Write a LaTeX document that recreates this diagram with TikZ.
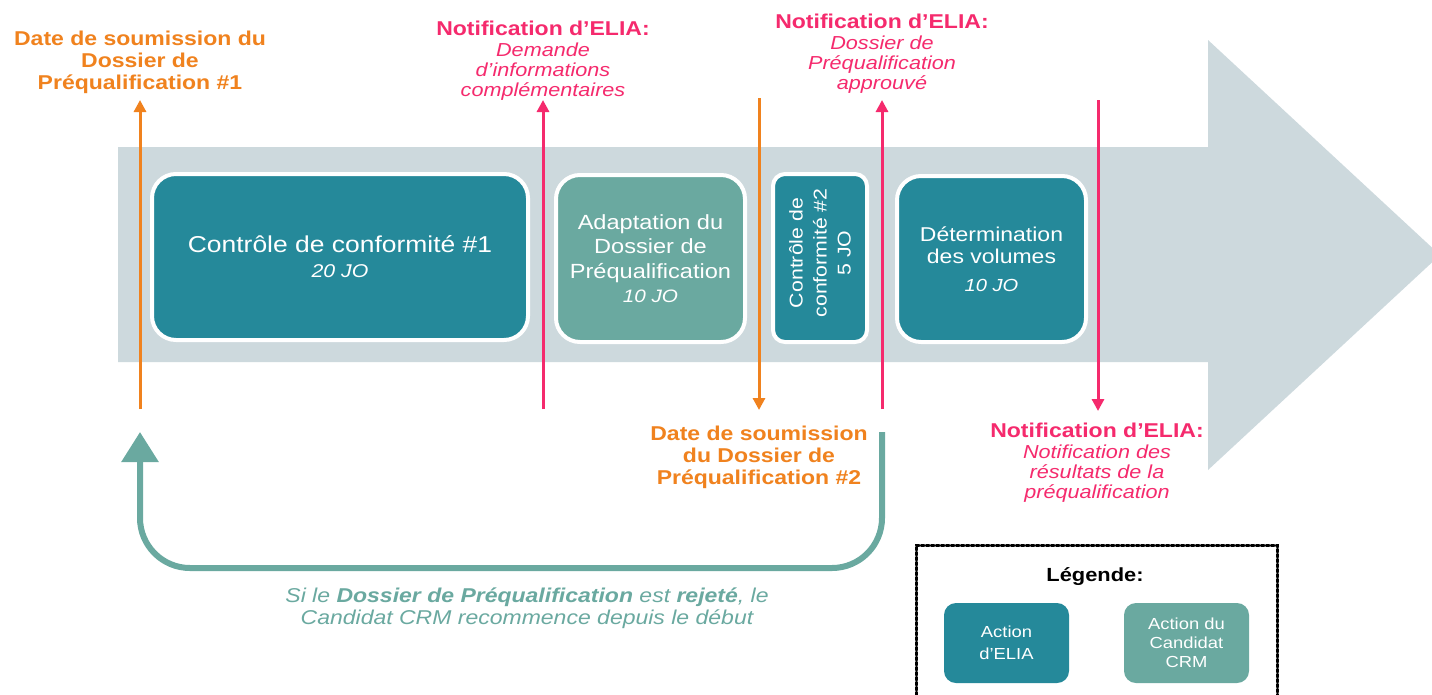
\documentclass[tikz,border=0pt]{standalone}
\usepackage{fontspec}
\setmainfont[FakeStretch=1.15]{Liberation Sans}
\usetikzlibrary{arrows.meta}
\definecolor{tealE}{HTML}{25899A}
\definecolor{sageC}{HTML}{6AA9A0}
\definecolor{bandC}{HTML}{CDD9DD}
\definecolor{orng}{HTML}{F0821E}
\definecolor{pnk}{HTML}{F52A6D}
\tikzset{
  stepbox/.style={draw=white, line width=4pt, rounded corners=24pt, align=center, text=white, inner sep=0pt},
  elia/.style={stepbox, fill=tealE},
  cand/.style={stepbox, fill=sageC},
  orlabel/.style={align=center, text=orng, font=\bfseries\fontsize{20}{22}\selectfont},
  pklabel/.style={align=center, text=pnk, font=\itshape\fontsize{18.8}{20}\selectfont},
  orarrow/.style={draw=orng, line width=3pt, -{Triangle[width=12pt,length=12pt]}},
  pkarrow/.style={draw=pnk, line width=3pt, -{Triangle[width=12pt,length=12pt]}},
}
\newcommand{\hdr}{{\upshape\bfseries\fontsize{20}{21}\selectfont Notification d’ELIA:}}
\begin{document}
\begin{tikzpicture}[x=1pt,y=-1pt]
\useasboundingbox (0,0) rectangle (1432,694);
\clip (0,0) rectangle (1432,694);
\fill[white] (0,0) rectangle (1432,694);
% big arrow
\fill[bandC] (118,147) -- (1208,147) -- (1208,40) -- (1440,255) -- (1208,470) -- (1208,362) -- (118,362) -- cycle;
% steps
\node[elia, minimum width=376pt, minimum height=166pt, font=\fontsize{23}{25}\selectfont] (s1) at (340,257)
  {Contrôle de conformité \#1\\{\itshape\fontsize{18.5}{22}\selectfont 20 JO}};
\node[cand, minimum width=189pt, minimum height=167pt, font=\fontsize{20.5}{24.5}\selectfont] (s2) at (650.5,258.5)
  {Adaptation du\\Dossier de\\Préqualification\\{\itshape\fontsize{18}{22}\selectfont 10 JO}};
\node[elia, rounded corners=12pt, minimum width=94pt, minimum height=168pt] (s3) at (820,258) {};
\node[rotate=90, align=center, text=white, font=\fontsize{18.5}{24}\selectfont] (s3t) at ([yshift=5pt]s3.center)
  {Contrôle de\\conformité \#2\\5 JO};
\node[elia, minimum width=189pt, minimum height=166pt, font=\fontsize{20}{22}\selectfont] (s4) at (991.5,259)
  {Détermination\\des volumes\\[6pt]{\itshape\fontsize{17.5}{20}\selectfont 10 JO}};
% labels
\node[orlabel] (d1) at (140,62) {Date de soumission du\\Dossier de\\Préqualification \#1};
\node[pklabel] (n1) at (543,61) {\hdr\\[1pt]Demande\\d’informations\\complémentaires};
\node[pklabel] (n2) at (882,54) {\hdr\\[1pt]Dossier de\\Préqualification\\approuvé};
\node[orlabel] (d2) at (759,457) {Date de soumission\\du Dossier de\\Préqualification \#2};
\node[pklabel] (n3) at (1097,463) {\hdr\\[1pt]Notification des\\résultats de la\\préqualification};
% arrow coordinates
\coordinate (a1s) at (140,409); \coordinate (a1e) at (140,100);
\coordinate (a2s) at (543,409); \coordinate (a2e) at (543,100);
\coordinate (a3s) at (759,98);  \coordinate (a3e) at (759,410);
\coordinate (a4s) at (882,409); \coordinate (a4e) at (882,100);
\coordinate (a5s) at (1098,100); \coordinate (a5e) at (1098,411);
\draw[orarrow] (a1s) -- (a1e);
\draw[pkarrow] (a2s) -- (a2e);
\draw[orarrow] (a3s) -- (a3e);
\draw[pkarrow] (a4s) -- (a4e);
\draw[pkarrow] (a5s) -- (a5e);
% loop back
\coordinate (ls) at (882,432);
\coordinate (le) at (140,432);
\draw[draw=sageC, line width=6pt, rounded corners=50pt, -{Triangle[width=36pt,length=30pt]}]
  (ls) -- (882,568) -- (140,568) -- (le);
\node[align=center, text=sageC, font=\itshape\fontsize{20}{22}\selectfont] (cap) at (527,608)
  {Si le \textbf{Dossier de Préqualification} est \textbf{rejeté}, le\\Candidat CRM recommence depuis le début};
% legend
\draw[line width=3pt, dotted, line cap=round] (916,700) -- (916,545) -- (1277,545) -- (1277,700);
\node[font=\bfseries\fontsize{19}{22}\selectfont] (leg) at (1095,577) {Légende:};
\node[elia, draw=none, rounded corners=12pt, minimum width=125pt, minimum height=80pt, font=\fontsize{16}{22}\selectfont] (l1) at (1006.5,643) {Action\\d’ELIA};
\node[cand, draw=none, rounded corners=12pt, minimum width=125pt, minimum height=80pt, font=\fontsize{16}{19}\selectfont] (l2) at (1186.5,643) {Action du\\Candidat\\CRM};
\end{tikzpicture}
\end{document}
